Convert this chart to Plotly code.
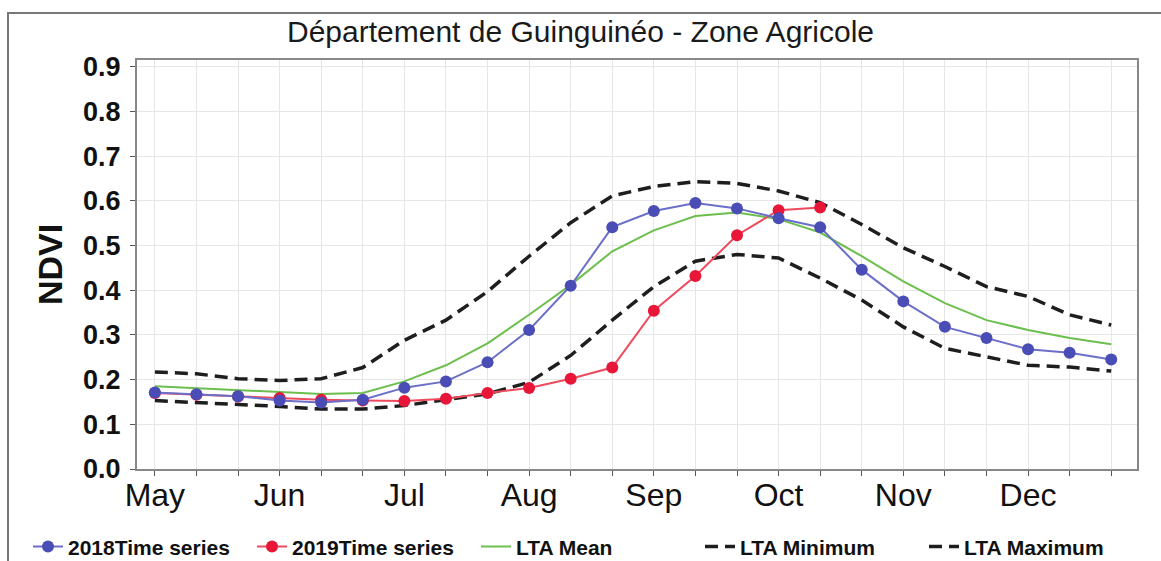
import plotly.graph_objects as go

# dekads May1 .. Dec3 (24 periods)
dekads = list(range(24))
month_labels = ["May", "Jun", "Jul", "Aug", "Sep", "Oct", "Nov", "Dec"]

ndvi_2018 = [0.171, 0.167, 0.163, 0.153, 0.149, 0.155, 0.182, 0.196, 0.239, 0.311, 0.410, 0.541,
             0.577, 0.595, 0.583, 0.561, 0.541, 0.446, 0.375, 0.318, 0.293, 0.268, 0.260, 0.245]
ndvi_2019 = [0.170, 0.166, 0.162, 0.159, 0.155, 0.153, 0.152, 0.157, 0.170, 0.181, 0.202, 0.227,
             0.354, 0.432, 0.523, 0.579, 0.585]
lta_mean = [0.185, 0.181, 0.176, 0.172, 0.168, 0.170, 0.196, 0.232, 0.281, 0.345, 0.412, 0.487,
            0.534, 0.566, 0.574, 0.559, 0.529, 0.476, 0.420, 0.371, 0.333, 0.311, 0.293, 0.279]
lta_min = [0.153, 0.149, 0.144, 0.140, 0.134, 0.134, 0.142, 0.155, 0.168, 0.194, 0.254, 0.333,
           0.408, 0.465, 0.480, 0.472, 0.427, 0.378, 0.318, 0.270, 0.251, 0.232, 0.228, 0.219]
lta_max = [0.217, 0.213, 0.202, 0.198, 0.202, 0.227, 0.288, 0.333, 0.397, 0.476, 0.551, 0.611,
           0.632, 0.643, 0.639, 0.622, 0.596, 0.547, 0.495, 0.453, 0.408, 0.386, 0.345, 0.322]

y_ticks = [0.0, 0.1, 0.2, 0.3, 0.4, 0.5, 0.6, 0.7, 0.8, 0.9]

FONT = "Liberation Sans, Arial, sans-serif"

fig = go.Figure()

fig.add_trace(go.Scatter(x=dekads, y=lta_max, mode="lines", name="LTA Maximum", legendrank=5,
                         line=dict(color="#1e1e1e", width=3.5, dash="13px,7px")))
fig.add_trace(go.Scatter(x=dekads, y=lta_min, mode="lines", name="LTA Minimum", legendrank=4,
                         line=dict(color="#1e1e1e", width=3.5, dash="13px,7px")))
fig.add_trace(go.Scatter(x=dekads, y=lta_mean, mode="lines", name="LTA Mean", legendrank=3,
                         line=dict(color="#6cbf4e", width=2)))
fig.add_trace(go.Scatter(x=dekads[:len(ndvi_2019)], y=ndvi_2019, mode="lines+markers",
                         name="2019Time series", legendrank=2,
                         line=dict(color="#ee4a5e", width=2),
                         marker=dict(color="#e8173a", size=12)))
fig.add_trace(go.Scatter(x=dekads, y=ndvi_2018, mode="lines+markers",
                         name="2018Time series", legendrank=1,
                         line=dict(color="#6b6fc8", width=2),
                         marker=dict(color="#4a4db5", size=12)))

tick_text = [month_labels[i // 3] if i % 3 == 0 else "" for i in dekads]

fig.update_layout(
    width=1161, height=561,
    margin=dict(l=137, r=24, t=60, b=92, autoexpand=False),
    paper_bgcolor="white", plot_bgcolor="white",
    title=dict(text="Département de Guinguinéo - Zone Agricole",
               x=0.5, xanchor="center", y=0.943, yanchor="middle",
               font=dict(family=FONT, size=30, color="#1a1a1a")),
    xaxis=dict(range=[-0.43, 23.62], tickmode="array", tickvals=dekads, ticktext=tick_text,
               showgrid=True, gridcolor="#e6e6e6", gridwidth=1,
               showline=True, linecolor="#888888", linewidth=2, mirror=True,
               ticks="outside", ticklen=5, tickcolor="#555555", ticklabelstandoff=-8,
               tickfont=dict(family=FONT, size=32, color="#111111"), zeroline=False),
    yaxis=dict(range=[0, 0.915], tickmode="array", tickvals=y_ticks,
               ticktext=[f"{v:.1f}" for v in y_ticks],
               showgrid=True, gridcolor="#e6e6e6", gridwidth=1,
               showline=True, linecolor="#888888", linewidth=2, mirror=True,
               ticks="outside", ticklen=5, tickcolor="#555555", ticklabelstandoff=4,
               tickfont=dict(family=FONT, size=27, color="#111111", weight="bold"),
               title=dict(text="NDVI", standoff=10,
                          font=dict(family=FONT, size=34, color="#111111", weight="bold")),
               zeroline=False),
    legend=dict(orientation="h", x=-0.109, xanchor="left", y=-0.14, yanchor="top",
                font=dict(family=FONT, size=21, color="#111111", weight="bold"),
                itemwidth=30, entrywidth=179, tracegroupgap=0, bgcolor="rgba(0,0,0,0)"),
    showlegend=True,
)

# outer frame around the whole chart
fig.add_shape(type="rect", xref="paper", yref="paper",
              x0=(8 - 137) / 1000, x1=(1175 - 137) / 1000,
              y0=(469 - 600) / 409, y1=(469 - 13) / 409,
              line=dict(color="#777777", width=2), layer="below")

fig.write_html("out.html", config={"displayModeBar": False},
               post_script="document.body.style.margin='0';")
